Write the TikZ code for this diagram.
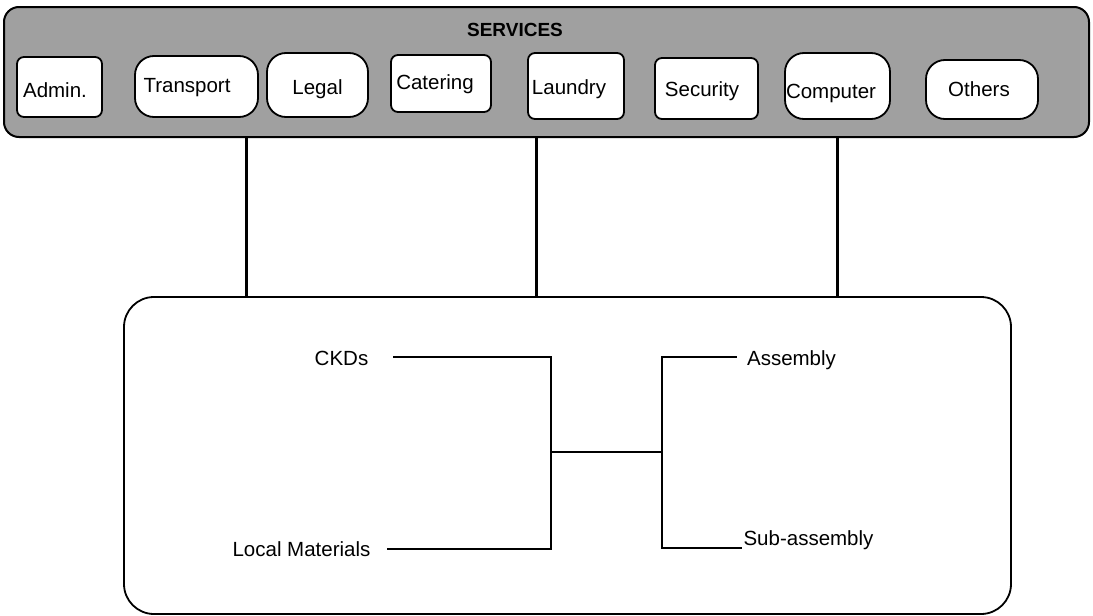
\documentclass[tikz,border=0pt]{standalone}
\usepackage{fontspec}
\setmainfont{Liberation Sans}
\begin{document}
\begin{tikzpicture}[x=1pt,y=-1pt,
  every node/.style={font=\fontsize{20.5}{24}\selectfont, inner sep=0pt, outer sep=0pt},
  every label/.style={font=\fontsize{20.5}{24}\selectfont, inner sep=0pt},
  bar/.style={draw=black, line width=2pt, fill=barfill, rounded corners=15pt},
  plantbox/.style={draw=black, line width=1.8pt, fill=white, rounded corners=30pt},
  svcsq/.style={draw=black, line width=1.8pt, fill=white, rounded corners=7pt},
  svcround/.style={draw=black, line width=1.8pt, fill=white, rounded corners=19pt},
  link/.style={draw=black, line width=3pt},
  tree/.style={draw=black, line width=1.8pt}]
\definecolor{barfill}{RGB}{160,160,160}
\useasboundingbox (0,0) rectangle (1093,616);
\fill[white] (0,0) rectangle (1093,616);

% services bar and its units
\node[bar, minimum width=1085pt, minimum height=130pt] (services) at (546.5,72) {};
\node[font=\fontsize{19}{22}\selectfont\bfseries] (title) at (515,30) {SERVICES};
\node[svcsq, minimum width=85pt, minimum height=60pt,
  label={[xshift=-4.5pt, yshift=-3pt]center:Admin.}] (admin) at (59.5,87) {};
\node[svcround, minimum width=123pt, minimum height=61pt,
  label={[xshift=-9.5pt, yshift=-1.5pt]center:Transport}] (transport) at (196.5,86.5) {};
\node[svcround, minimum width=101pt, minimum height=64pt,
  label={[yshift=-4pt]center:Legal}] (legal) at (317.5,85) {};
\node[svcsq, minimum width=100pt, minimum height=57pt,
  label={[xshift=-6pt, yshift=-1pt]center:Catering}] (catering) at (441,83.5) {};
\node[svcsq, minimum width=96pt, minimum height=66pt,
  label={[xshift=-7pt, yshift=-3pt]center:Laundry}] (laundry) at (576,86) {};
\node[svcsq, minimum width=103pt, minimum height=61pt,
  label={[xshift=-4.5pt, yshift=-3pt]center:Security}] (security) at (706.5,88.5) {};
\node[svcround, minimum width=105pt, minimum height=66pt,
  label={[xshift=-6.5pt, yshift=-7pt]center:Computer}] (computer) at (837.5,86) {};
\node[svcround, minimum width=112pt, minimum height=59pt,
  label={[xshift=-3pt]center:Others}] (others) at (982,89.5) {};

% production area
\node[plantbox, minimum width=887pt, minimum height=317pt] (plant) at (567.5,455.5) {};

% links from the services bar down to the production area
\coordinate (x1) at (246,0);
\coordinate (x2) at (536,0);
\coordinate (x3) at (837,0);
\draw[link] (services.south -| x1) -- (plant.north -| x1);
\draw[link] (services.south -| x2) -- (plant.north -| x2);
\draw[link] (services.south -| x3) -- (plant.north -| x3);

% inputs and outputs
\node (ckd) at (341.5,358) {CKDs};
\node (local) at (301.5,549) {Local Materials};
\node (asm) at (791.5,360) {Assembly};
\node (sub) at (808.5,540) {Sub-assembly};
\coordinate (jl) at (551,452);
\coordinate (jr) at (662,452);

\draw[tree] ([xshift=25pt,yshift=1pt]ckd.east) -| (jl);
\draw[tree] ([xshift=17pt]local.east) -| (jl);
\draw[tree] (jl) -- (jr);
\draw[tree] (jr) |- ([xshift=-10pt,yshift=3pt]asm.west);
\draw[tree] (jr) |- ([xshift=-2pt,yshift=-8pt]sub.west);
\end{tikzpicture}
\end{document}
